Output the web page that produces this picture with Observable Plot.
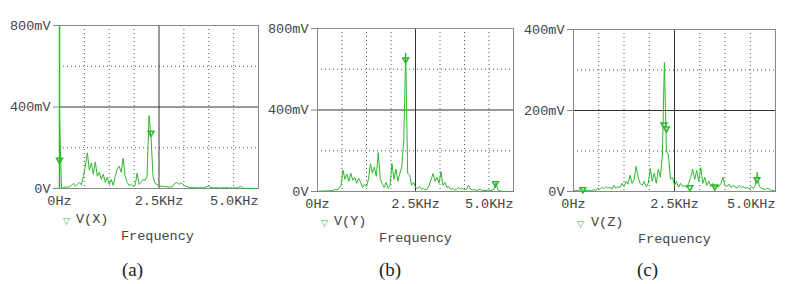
<!DOCTYPE html>
<html><head><meta charset="utf-8">
<script src="https://cdn.jsdelivr.net/npm/d3@7"></script>
<script src="https://cdn.jsdelivr.net/npm/@observablehq/plot@0.6"></script>
<style>
body{margin:0;background:#fff;}
#wrap{position:relative;width:790px;height:284px;overflow:hidden;background:#fff;}
.p{position:absolute;}
.lbl{position:absolute;font-family:"Liberation Mono",monospace;font-size:13.5px;line-height:16px;color:#444;white-space:nowrap;}
.tri{position:absolute;font-family:"DejaVu Sans",sans-serif;font-size:9px;line-height:10px;color:#2eb82e;}
.cap{position:absolute;font-family:"Liberation Serif",serif;font-size:19px;line-height:22px;color:#222;}
</style></head><body><div id="wrap"></div>
<script>
// Frequency samples (Hz)
const freqHz = [0,50,100,150,200,250,300,350,400,450,500,550,600,650,700,750,800,850,900,950,
  1000,1050,1100,1150,1200,1250,1300,1350,1400,1450,1500,1550,1600,1650,1700,1750,1800,1850,1900,1950,
  2000,2050,2100,2150,2200,2250,2300,2350,2400,2450,2500,2550,2600,2650,2700,2750,2800,2850,2900,2950,
  3000,3050,3100,3150,3200,3250,3300,3350,3400,3450,3500,3550,3600,3650,3700,3750,3800,3850,3900,3950,
  4000,4050,4100,4150,4200,4250,4300,4350,4400,4450,4500,4550,4600,4650,4700,4750,4800,4850,4900,4950,5000];

// V(X) magnitude (mV)
const voltX = [350,5,3,8,6,10,15,25,12,20,30,18,60,110,175,90,125,70,130,60,
  80,45,70,30,55,20,45,15,60,95,110,80,148,60,30,15,20,10,15,75,
  20,30,45,40,60,358,250,60,25,20,15,10,12,8,10,6,8,12,25,30,
  20,28,22,12,10,6,4,5,3,4,3,4,3,5,8,12,5,4,3,5,
  3,2,4,3,5,2,3,2,4,3,6,12,2,1,1,1,0,0,0,0,0];
// V(Y) magnitude (mV)
const voltY = [2,1,2,3,2,4,3,6,5,10,8,15,30,105,60,85,50,90,55,70,
  40,65,45,20,35,25,60,137,90,120,75,191,60,40,20,45,15,30,137,60,
  110,50,90,120,250,680,90,80,30,45,20,15,25,10,15,8,12,30,60,88,
  50,70,40,98,30,45,20,25,10,15,8,10,20,12,15,8,10,30,12,8,
  10,5,8,12,5,6,4,8,5,6,10,42,8,3,1,0,0,0,0,0,0];
// V(Z) magnitude (mV)
const voltZ = [3,2,3,4,5,3,2,3,2,3,4,3,8,5,10,7,12,8,10,6,
  15,8,12,10,20,12,25,18,40,20,30,62,35,20,15,25,12,20,57,25,
  45,20,55,35,90,319,100,90,30,35,15,25,10,20,12,15,10,20,35,55,
  30,52,25,59,20,35,15,25,12,20,10,15,12,20,35,15,12,18,10,15,
  12,8,15,10,12,8,10,6,12,8,15,48,12,8,6,5,8,5,3,2,1];

// Markers (Hz, mV)
const markFreqX = [0, 2300];
const markVoltX = [140, 273];
const markFreqY = [2250, 4540];
const markVoltY = [647, 40];
const markFreqZ = [230, 2240, 2300, 2880, 3500, 4540];
const markVoltZ = [5, 165, 155, 10, 12, 30];

// Ticks
const xTicks = [0, 2500, 5000];
const xTickLabels = ["0Hz", "2.5KHz", "5.0KHz"];
const xDotted = [625, 1250, 1875, 3125, 3750, 4375];
const yTicks800 = [0, 400, 800];
const yLabels800 = ["0V", "400mV", "800mV"];
const yTicks400 = [0, 200, 400];
const yLabels400 = ["0V", "200mV", "400mV"];
const legendNames = ["V(X)", "V(Y)", "V(Z)"];
const captions = ["(a)", "(b)", "(c)"];

const green = "#2eb82e";
const wrap = document.getElementById("wrap");

function panel(o) {
  const data = freqHz.map((f, i) => ({f, v: o.volts[i]}));
  const mk = o.mf.map((f, i) => ({f, v: o.mv[i]}));
  const marks = [
    Plot.ruleX(xDotted, {stroke: "#555", strokeDasharray: "1,3"}),
    Plot.ruleY(o.yDotted, {stroke: "#555", strokeDasharray: "1,3"}),
    Plot.ruleX([2500], {stroke: "#333"}),
    Plot.ruleY([o.ySolid], {stroke: "#333"}),
    Plot.frame({stroke: "#888"}),
  ];
  if (o.greenLeft) marks.push(Plot.ruleX([0], {stroke: green, strokeWidth: 1.5}));
  marks.push(
    Plot.line(data, {x: "f", y: "v", stroke: green, strokeWidth: 1}),
    Plot.dot(mk, {x: "f", y: "v", symbol: "triangle", rotate: 180, r: 2.2, stroke: green, fill: "none"}),
    Plot.axisY(o.yTicks, {label: null, tickFormat: d => o.yLabels[o.yTicks.indexOf(d)], tickSize: 6, tickPadding: 3, stroke: "#888"}),
    Plot.axisX([0, 2500], {label: null, tickFormat: d => xTickLabels[xTicks.indexOf(d)], tickSize: 0, tickPadding: 7}),
    Plot.axisX([5000], {label: null, tickFormat: d => xTickLabels[xTicks.indexOf(d)], tickSize: 0, tickPadding: 7, textAnchor: "end"})
  );
  const svg = Plot.plot({
    width: o.width, height: o.height,
    marginTop: o.mt, marginLeft: o.ml, marginRight: o.mr, marginBottom: o.mb,
    style: {fontFamily: "'Liberation Mono', monospace", fontSize: "13.5px", color: "#444", background: "transparent", overflow: "visible"},
    x: {domain: [0, 5000], label: null},
    y: {domain: [0, o.ymax], label: null},
    marks
  });
  svg.classList.add("p");
  svg.style.left = o.left + "px";
  svg.style.top = o.top + "px";
  wrap.appendChild(svg);
}

panel({left: 0, top: 0, width: 268, height: 212, mt: 25, ml: 59, mr: 10, mb: 24,
  ymax: 800, yTicks: yTicks800, yLabels: yLabels800, yDotted: [200, 600], ySolid: 400,
  volts: voltX, mf: markFreqX, mv: markVoltX, greenLeft: true});
panel({left: 260, top: 0, width: 263, height: 215, mt: 28, ml: 57, mr: 10, mb: 24,
  ymax: 800, yTicks: yTicks800, yLabels: yLabels800, yDotted: [200, 600], ySolid: 400,
  volts: voltY, mf: markFreqY, mv: markVoltY});
panel({left: 520, top: 0, width: 265, height: 215, mt: 29, ml: 53, mr: 10, mb: 24,
  ymax: 400, yTicks: yTicks400, yLabels: yLabels400, yDotted: [100, 300], ySolid: 200,
  volts: voltZ, mf: markFreqZ, mv: markVoltZ});

function addText(cls, txt, x, y) {
  const d = document.createElement("div");
  d.className = cls; d.textContent = txt;
  d.style.left = x + "px"; d.style.top = y + "px";
  wrap.appendChild(d);
}
const triX = [66, 324, 580], legX = [76, 334, 591], legY = [212, 214, 215];
const freqX = [121, 379, 638], freqY = [229, 231, 232];
const capX = [122, 379, 637];
for (let i = 0; i < 3; i++) {
  addText("tri", "▽", triX[i] - 3, legY[i] + 4);
  addText("lbl", legendNames[i], legX[i], legY[i]);
  addText("lbl", "Frequency", freqX[i], freqY[i]);
  addText("cap", captions[i], capX[i], 259);
}
</script></body></html>
